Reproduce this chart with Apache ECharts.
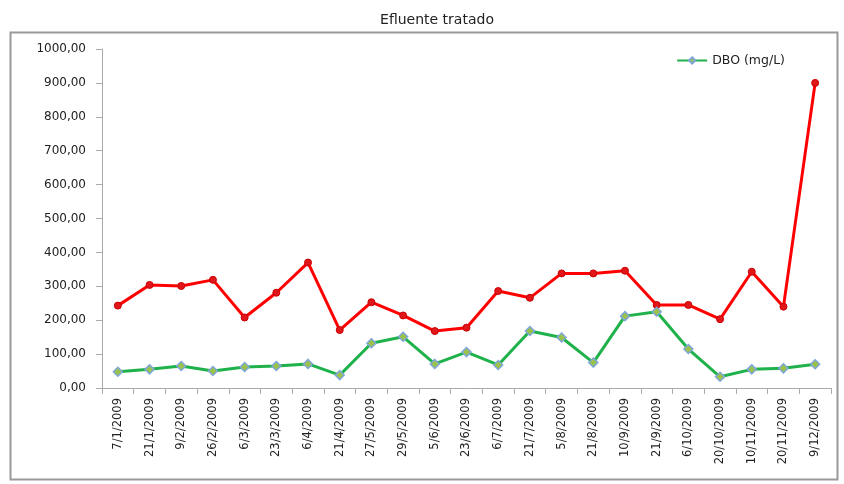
<!DOCTYPE html>
<html><head><meta charset="utf-8">
<script src="https://cdn.jsdelivr.net/npm/echarts@6/dist/echarts.min.js"></script>
<style>html,body{margin:0;padding:0;background:#fff}#c{width:844px;height:484px}</style>
</head><body><div id="c"></div>
<script>
var categories = ['7/1/2009','21/1/2009','9/2/2009','26/2/2009','6/3/2009','23/3/2009','6/4/2009','21/4/2009','27/5/2009','29/5/2009','5/6/2009','23/6/2009','6/7/2009','21/7/2009','5/8/2009','21/8/2009','10/9/2009','21/9/2009','6/10/2009','20/10/2009','10/11/2009','20/11/2009','9/12/2009'];
var redValues = [243,304,301,319,208,281,370,171,253,214,168,178,286,266,338,338,346,245,245,203,343,240,900];
var dboValues = [48,55,65,50,62,65,71,38,132,151,71,106,68,168,149,75,212,225,115,33,55,58,70];
var titleText = 'Efluente tratado';
var legendName = 'DBO (mg/L)';

var chart = echarts.init(document.getElementById('c'), null, {renderer:'canvas'});
chart.setOption({
  animation:false,
  backgroundColor:'#fff',
  title:{text:titleText,left:432,top:8,textAlign:'center',textStyle:{fontFamily:'DejaVu Sans',fontSize:14,fontWeight:'normal',color:'#222'}},
  graphic:[{type:'rect',shape:{x:10.5,y:32.5,width:827,height:447},style:{fill:'none',stroke:'#999',lineWidth:2},silent:true,z:-1}],
  legend:{data:[legendName],right:54,top:49,itemWidth:30,itemHeight:8,itemGap:6,textStyle:{fontFamily:'DejaVu Sans',fontSize:12.5,color:'#222'}},
  grid:{left:102,right:13,top:49,bottom:96},
  xAxis:{type:'category',data:categories,boundaryGap:true,
    axisLine:{lineStyle:{color:'#aaa'}},
    axisTick:{show:true,alignWithLabel:false,length:6,lineStyle:{color:'#aaa'}},
    axisLabel:{rotate:90,interval:0,fontFamily:'DejaVu Sans',fontSize:11.5,color:'#222',margin:10}},
  yAxis:{type:'value',min:0,max:1000,interval:100,
    axisLine:{show:true,lineStyle:{color:'#aaa'}},
    axisTick:{show:true,length:6,lineStyle:{color:'#aaa'}},
    splitLine:{show:false},
    axisLabel:{margin:16,fontFamily:'DejaVu Sans',fontSize:12,color:'#222',formatter:function(v){return v.toFixed(2).replace('.',',');}}},
  series:[
    {name:'Efluente',type:'line',data:redValues,symbol:'circle',symbolSize:7,
     lineStyle:{color:'#ff0000',width:3},itemStyle:{color:'#e0161b',borderColor:'#c00',borderWidth:1}},
    {name:legendName,type:'line',data:dboValues,symbol:'diamond',symbolSize:9,
     lineStyle:{color:'#1fb14a',width:3},itemStyle:{color:'#9bc34a',borderColor:'#7fa6d8',borderWidth:1.5}}
  ]
});
</script></body></html>
